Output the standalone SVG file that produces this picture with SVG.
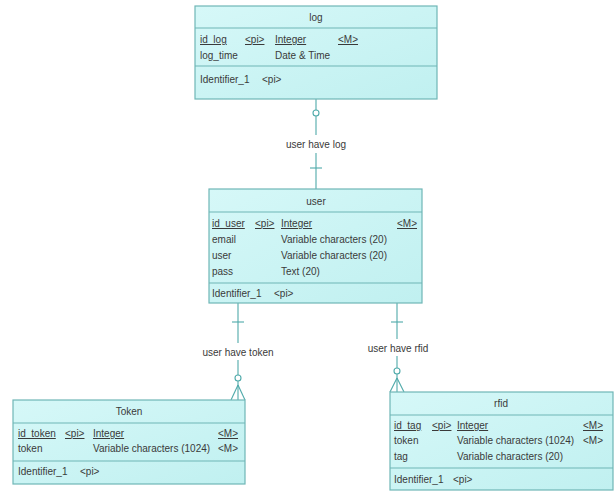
<svg xmlns="http://www.w3.org/2000/svg" width="615" height="492" viewBox="0 0 615 492">
<style>
.box{fill:#c9f3f3;stroke:#6fb6b6;stroke-width:1.2}
.div{stroke:#6fb6b6;stroke-width:1.2}
text{font-family:"Liberation Sans",Arial,sans-serif;font-size:10px;fill:#3a3a3a}
.t{text-anchor:middle}
.u{text-decoration:underline}
.c{stroke:#4faaaa;stroke-width:1.1;fill:none}
.ci{stroke:#4faaaa;stroke-width:1.1;fill:#ffffff}
</style>
<defs>
<linearGradient id="g" x1="0" y1="0" x2="1" y2="1">
<stop offset="0" stop-color="#d6f8f8"/>
<stop offset="1" stop-color="#c0f0f0"/>
</linearGradient>
</defs>
<rect width="615" height="492" fill="#ffffff"/>
<g id="connectors">
<line class="c" x1="316" y1="99" x2="316" y2="135"/>
<line class="c" x1="316" y1="153" x2="316" y2="189"/>
<circle class="ci" cx="316" cy="113" r="3"/>
<line class="c" x1="310" y1="168" x2="322" y2="168"/>
<text class="t" x="316" y="148">user have log</text>
<line class="c" x1="238" y1="303" x2="238" y2="343"/>
<line class="c" x1="238" y1="360" x2="238" y2="375"/>
<line class="c" x1="232" y1="322" x2="244" y2="322"/>
<text class="t" x="238" y="356">user have token</text>
<circle class="ci" cx="238" cy="378" r="3"/>
<line class="c" x1="238" y1="381" x2="238" y2="400"/>
<line class="c" x1="238" y1="385" x2="231" y2="400"/>
<line class="c" x1="238" y1="385" x2="245" y2="400"/>
<line class="c" x1="397" y1="303" x2="397" y2="339"/>
<line class="c" x1="397" y1="356" x2="397" y2="368"/>
<line class="c" x1="391" y1="322" x2="403" y2="322"/>
<text class="t" x="398" y="352">user have rfid</text>
<circle class="ci" cx="397" cy="371" r="3"/>
<line class="c" x1="397" y1="374" x2="397" y2="392"/>
<line class="c" x1="397" y1="378" x2="390" y2="392"/>
<line class="c" x1="397" y1="378" x2="404" y2="392"/>
</g>
<g id="log">
<rect class="box" x="195" y="6" width="242" height="93" fill="url(#g)" style="fill:url(#g)"/>
<line class="div" x1="195" y1="28" x2="437" y2="28"/>
<line class="div" x1="195" y1="66" x2="437" y2="66"/>
<text class="t" x="316" y="21">log</text>
<text class="u" x="200" y="43">id_log</text>
<text class="u" x="245" y="43">&lt;pi&gt;</text>
<text class="u" x="275" y="43">Integer</text>
<text class="u" x="338" y="43">&lt;M&gt;</text>
<text x="200" y="59">log_time</text>
<text x="275" y="59">Date &amp; Time</text>
<text x="200" y="83">Identifier_1</text>
<text x="262" y="83">&lt;pi&gt;</text>
</g>
<g id="user">
<rect class="box" x="209" y="189" width="213" height="114" style="fill:url(#g)"/>
<line class="div" x1="209" y1="212" x2="422" y2="212"/>
<line class="div" x1="209" y1="283" x2="422" y2="283"/>
<text class="t" x="316" y="205">user</text>
<text class="u" x="212" y="227">id_user</text>
<text class="u" x="255" y="227">&lt;pi&gt;</text>
<text class="u" x="281" y="227">Integer</text>
<text class="u" x="397" y="227">&lt;M&gt;</text>
<text x="212" y="243">email</text>
<text x="281" y="243">Variable characters (20)</text>
<text x="212" y="259">user</text>
<text x="281" y="259">Variable characters (20)</text>
<text x="212" y="275">pass</text>
<text x="281" y="275">Text (20)</text>
<text x="212" y="297">Identifier_1</text>
<text x="274" y="297">&lt;pi&gt;</text>
</g>
<g id="token">
<rect class="box" x="13" y="400" width="232" height="84" style="fill:url(#g)"/>
<line class="div" x1="13" y1="423" x2="245" y2="423"/>
<line class="div" x1="13" y1="461" x2="245" y2="461"/>
<text class="t" x="129" y="415">Token</text>
<text class="u" x="18" y="437">id_token</text>
<text class="u" x="65" y="437">&lt;pi&gt;</text>
<text class="u" x="93" y="437">Integer</text>
<text class="u" x="218" y="437">&lt;M&gt;</text>
<text x="18" y="452">token</text>
<text x="93" y="452">Variable characters (1024)</text>
<text x="218" y="452">&lt;M&gt;</text>
<text x="18" y="475">Identifier_1</text>
<text x="80" y="475">&lt;pi&gt;</text>
</g>
<g id="rfid">
<rect class="box" x="390" y="392" width="223" height="98" style="fill:url(#g)"/>
<line class="div" x1="390" y1="415" x2="613" y2="415"/>
<line class="div" x1="390" y1="468" x2="613" y2="468"/>
<text class="t" x="501" y="407">rfid</text>
<text class="u" x="394" y="429">id_tag</text>
<text class="u" x="432" y="429">&lt;pi&gt;</text>
<text class="u" x="457" y="429">Integer</text>
<text class="u" x="583" y="429">&lt;M&gt;</text>
<text x="394" y="444">token</text>
<text x="457" y="444">Variable characters (1024)</text>
<text x="583" y="444">&lt;M&gt;</text>
<text x="394" y="460">tag</text>
<text x="457" y="460">Variable characters (20)</text>
<text x="394" y="483">Identifier_1</text>
<text x="453" y="483">&lt;pi&gt;</text>
</g>
</svg>
